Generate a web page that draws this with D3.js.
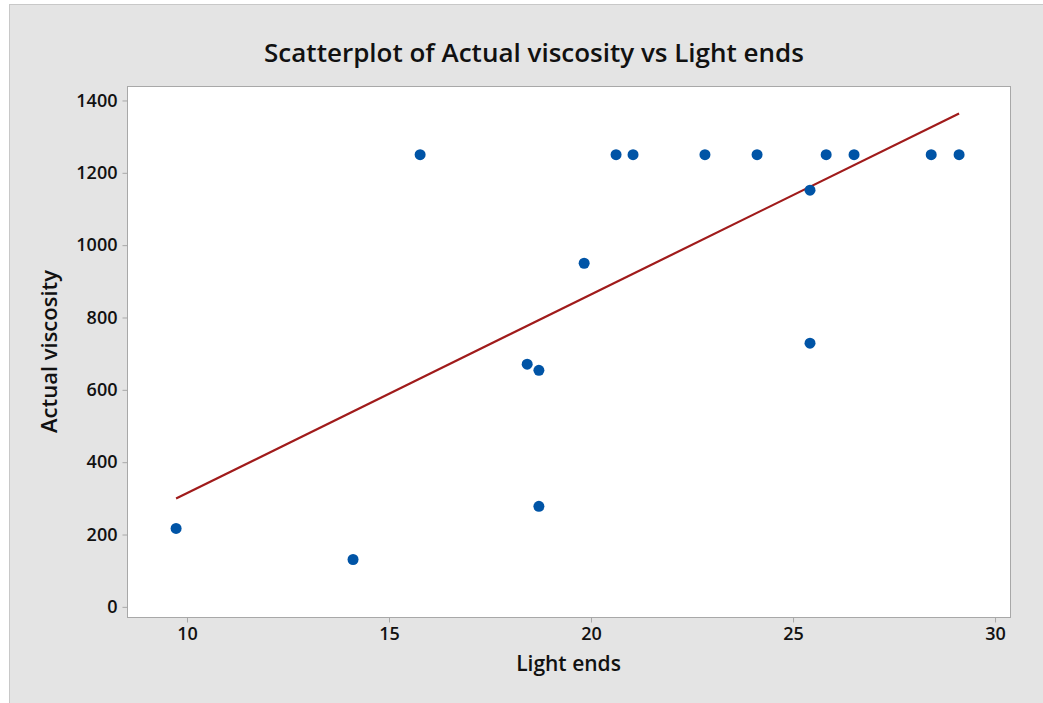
<!DOCTYPE html>
<html>
<head>
<meta charset="utf-8">
<script src="https://cdn.jsdelivr.net/npm/d3@7"></script>
<style>
    body { margin: 0; background: #ffffff; }
    svg text { font-family: "Open Sans", "Noto Sans", sans-serif; fill: #111; }
</style>
</head>
<body>
<div id="chart"></div>
<script>
// Light ends (x) and Actual viscosity (y)
var lightEnds = [9.73, 14.11, 15.77, 18.42, 18.71, 18.71, 19.83, 20.62, 21.04,
    22.82, 24.11, 25.42, 25.42, 25.82, 26.51, 28.42, 29.11];
var viscosity = [217, 131, 1250, 671, 654, 278, 950, 1250, 1250,
    1250, 1250, 1152, 729, 1250, 1250, 1250, 1250];
var xTicks = [10, 15, 20, 25, 30];
var yTicks = [0, 200, 400, 600, 800, 1000, 1200, 1400];

var title = 'Scatterplot of Actual viscosity vs Light ends';
var xLabel = 'Light ends';
var yLabel = 'Actual viscosity';

function main(domSelector) {
    var width = 1043;
    var height = 703;
    var margin = {top: 86, bottom: 86, left: 127, right: 33};

    var svg = d3.select(domSelector).append('svg')
        .attr('width', width)
        .attr('height', height);

    // grey frame
    svg.append('rect')
        .attr('x', 9.5).attr('y', 4.5)
        .attr('width', width + 20).attr('height', height + 20)
        .attr('fill', '#e4e4e4')
        .attr('stroke', '#c8c8c8');

    var xScale = d3.scaleLinear().domain([8.515, 30.37])
        .range([margin.left, width - margin.right]);
    var yScale = d3.scaleLinear().domain([-28, 1440])
        .range([height - margin.bottom, margin.top]);

    svg.append('rect')
        .attr('x', margin.left + 0.5).attr('y', margin.top + 0.5)
        .attr('width', width - margin.left - margin.right)
        .attr('height', height - margin.top - margin.bottom)
        .attr('fill', '#fff')
        .attr('stroke', '#a8a8a8');

    var xAxis = svg.append('g')
        .attr('transform', 'translate(0,' + (height - margin.bottom + 0.5) + ')')
        .call(d3.axisBottom(xScale).tickValues(xTicks).tickFormat(d3.format('d'))
            .tickSize(5).tickPadding(5).tickSizeOuter(0));
    var yAxis = svg.append('g')
        .attr('transform', 'translate(' + (margin.left + 0.5) + ',0)')
        .call(d3.axisLeft(yScale).tickValues(yTicks).tickFormat(d3.format('d'))
            .tickSize(5).tickPadding(5).tickSizeOuter(0));

    [xAxis, yAxis].forEach(function (ax) {
        ax.select('.domain').remove();
        ax.selectAll('.tick line').attr('stroke', '#a8a8a8');
        ax.selectAll('.tick text')
            .attr('font-size', 18)
            .attr('font-weight', 600)
            .attr('font-family', '"Open Sans", "Noto Sans", sans-serif')
            .attr('fill', '#111');
    });

    // least squares fit line over the data range
    var pts = lightEnds.map(function (x, i) { return [x, viscosity[i]]; });
    var mx = d3.mean(lightEnds), my = d3.mean(viscosity);
    var sxy = d3.sum(pts, function (p) { return (p[0] - mx) * (p[1] - my); });
    var sxx = d3.sum(pts, function (p) { return (p[0] - mx) * (p[0] - mx); });
    var slope = sxy / sxx;
    var intercept = my - slope * mx;
    var x0 = d3.min(lightEnds), x1 = d3.max(lightEnds);

    svg.append('line')
        .attr('x1', xScale(x0)).attr('y1', yScale(intercept + slope * x0))
        .attr('x2', xScale(x1)).attr('y2', yScale(intercept + slope * x1))
        .attr('stroke', '#a01b1b')
        .attr('stroke-width', 2.2);

    svg.selectAll('circle.pt')
        .data(pts)
        .enter()
        .append('circle')
        .attr('class', 'pt')
        .attr('cx', function (d) { return xScale(d[0]); })
        .attr('cy', function (d) { return yScale(d[1]); })
        .attr('r', 5.5)
        .attr('fill', '#0054a6');

    svg.append('text')
        .attr('x', 534).attr('y', 62)
        .attr('text-anchor', 'middle')
        .attr('font-size', 26)
        .attr('font-weight', 600)
        .text(title);

    svg.append('text')
        .attr('x', (margin.left + width - margin.right) / 2).attr('y', 671)
        .attr('text-anchor', 'middle')
        .attr('font-size', 21)
        .attr('font-weight', 600)
        .text(xLabel);

    svg.append('text')
        .attr('transform', 'translate(57,' + ((margin.top + height - margin.bottom) / 2) + ') rotate(-90)')
        .attr('text-anchor', 'middle')
        .attr('font-size', 22)
        .attr('font-weight', 600)
        .text(yLabel);
}

main('#chart');
</script>
</body>
</html>
